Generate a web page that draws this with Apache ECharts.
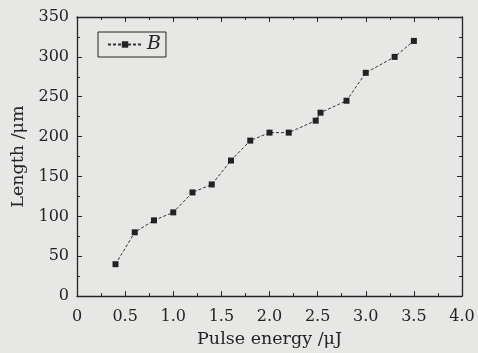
<!DOCTYPE html>
<html>
<head>
<meta charset="utf-8">
<script src="https://cdn.jsdelivr.net/npm/echarts@6/dist/echarts.min.js"></script>
<style>
html,body{margin:0;padding:0;background:#e7e7e5;}
#c{width:478px;height:353px;}
</style>
</head>
<body>
<div id="c"></div>
<script>
var energy = [0.4, 0.6, 0.8, 1.0, 1.2, 1.4, 1.6, 1.8, 2.0, 2.2, 2.48, 2.53, 2.8, 3.0, 3.3, 3.5];
var lengthUm = [40, 80, 95, 105, 130, 140, 170, 195, 205, 205, 220, 230, 245, 280, 300, 320];
var seriesName = 'B';
var xTitle = 'Pulse energy /\u03bcJ';
var yTitle = 'Length /\u03bcm';

var ink = '#242424';
var font = 'DejaVu Serif';
var pts = energy.map(function (x, i) { return [x, lengthUm[i]]; });

function xFmt(v) { return v === 0 ? '0' : v.toFixed(1); }

var common = {
  axisLine: { show: true, onZero: false, lineStyle: { color: ink, width: 1.3 } },
  axisTick: { show: true, inside: true, length: 5, lineStyle: { color: ink, width: 1 } },
  minorTick: { show: true, splitNumber: 2, length: 3, lineStyle: { color: ink, width: 1 } },
  splitLine: { show: false },
  minorSplitLine: { show: false }
};
function ax(extra) { return Object.assign({}, JSON.parse(JSON.stringify(common)), extra); }

var chart = echarts.init(document.getElementById('c'));
chart.setOption({
  backgroundColor: '#e7e7e5',
  animation: false,
  grid: { left: 77, right: 16, top: 17, bottom: 56 },
  legend: {
    left: 98, top: 32,
    data: [seriesName],
    itemWidth: 34, itemHeight: 8, itemGap: 4,
    padding: [3, 5, 3, 9],
    borderColor: ink, borderWidth: 1,
    textStyle: { fontFamily: font, fontStyle: 'italic', fontSize: 19, color: ink }
  },
  xAxis: [
    ax({
      type: 'value', min: 0, max: 4, interval: 0.5, position: 'bottom',
      name: xTitle, nameLocation: 'middle', nameGap: 33,
      nameTextStyle: { fontFamily: font, fontSize: 17.5, color: ink },
      axisLabel: { formatter: xFmt, fontFamily: font, fontSize: 16, color: ink, margin: 13 }
    }),
    ax({
      type: 'value', min: 0, max: 4, interval: 0.5, position: 'top',
      axisLabel: { show: false }
    })
  ],
  yAxis: [
    ax({
      type: 'value', min: 0, max: 350, interval: 50, position: 'left',
      name: yTitle, nameLocation: 'middle', nameGap: 49,
      nameTextStyle: { fontFamily: font, fontSize: 17.5, color: ink },
      axisLabel: { fontFamily: font, fontSize: 16, color: ink, margin: 8 }
    }),
    ax({
      type: 'value', min: 0, max: 350, interval: 50, position: 'right',
      axisLabel: { show: false }
    })
  ],
  series: [{
    name: seriesName,
    type: 'line',
    xAxisIndex: 0, yAxisIndex: 0,
    data: pts,
    symbol: 'rect', symbolSize: 6,
    itemStyle: { color: '#222' },
    lineStyle: { color: '#333', width: 1, type: [3, 2] }
  }]
});
</script>
</body>
</html>
